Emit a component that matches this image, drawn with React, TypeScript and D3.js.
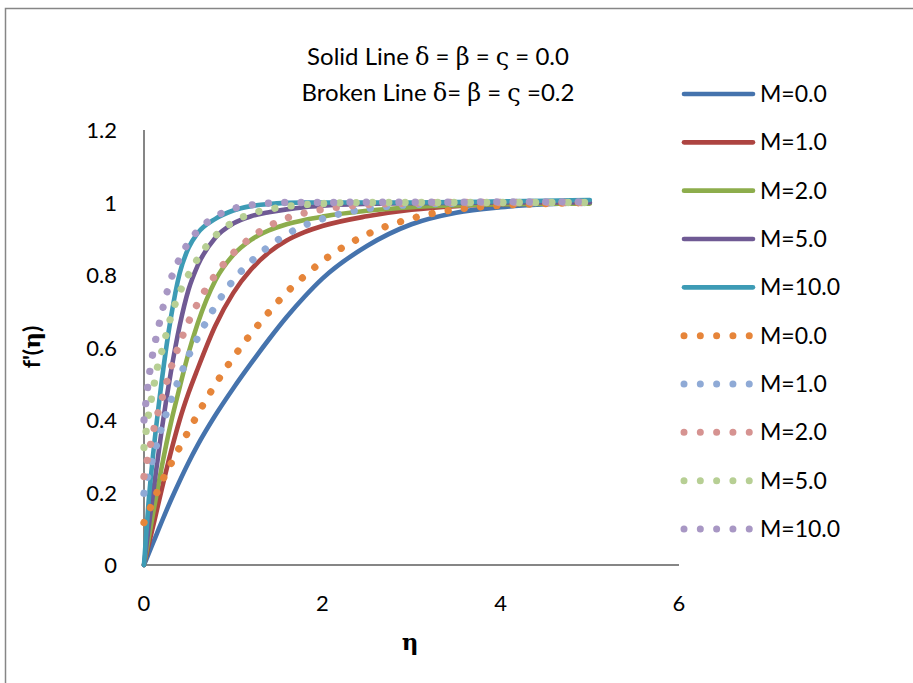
import React from "react";
import * as d3 from "d3";

// eta grid shared by every series
const eta = [0, 0.05, 0.1, 0.15, 0.2, 0.3, 0.4, 0.5, 0.6, 0.8, 1.0, 1.2, 1.4, 1.6, 1.8, 2.0, 2.5, 3.0, 3.5, 4.0, 4.5, 5.0];

// solid lines, delta = beta = varsigma = 0.0
const solidM0 = [0, 0.03, 0.06, 0.09, 0.12, 0.178, 0.232, 0.283, 0.33, 0.413, 0.487, 0.556, 0.622, 0.684, 0.74, 0.79, 0.88, 0.94, 0.972, 0.987, 0.995, 1.0];
const solidM1 = [0, 0.053, 0.105, 0.157, 0.21, 0.31, 0.4, 0.475, 0.54, 0.66, 0.75, 0.815, 0.862, 0.895, 0.918, 0.935, 0.962, 0.98, 0.99, 0.995, 0.998, 1.0];
const solidM2 = [0, 0.07, 0.14, 0.207, 0.272, 0.39, 0.49, 0.585, 0.665, 0.785, 0.855, 0.897, 0.923, 0.94, 0.952, 0.961, 0.977, 0.987, 0.992, 0.995, 0.997, 0.997];
const solidM5 = [0, 0.1, 0.195, 0.285, 0.375, 0.53, 0.66, 0.76, 0.825, 0.903, 0.942, 0.962, 0.973, 0.981, 0.987, 0.991, 0.996, 0.998, 0.999, 1.0, 1.0, 1.0];
const solidM10 = [0, 0.17, 0.3, 0.41, 0.51, 0.68, 0.805, 0.875, 0.915, 0.955, 0.978, 0.99, 0.996, 0.999, 1.0, 1.0, 1.0, 1.0, 1.001, 1.003, 1.005, 1.007];

// broken lines, delta = beta = varsigma = 0.2
const brokenM0 = [0.117, 0.146, 0.174, 0.203, 0.23, 0.278, 0.325, 0.37, 0.415, 0.498, 0.572, 0.638, 0.697, 0.752, 0.797, 0.838, 0.912, 0.956, 0.981, 0.992, 0.997, 1.0];
const brokenM1 = [0.198, 0.25, 0.295, 0.339, 0.38, 0.453, 0.518, 0.577, 0.626, 0.714, 0.785, 0.837, 0.879, 0.912, 0.937, 0.955, 0.983, 0.994, 0.998, 1.0, 1.0, 1.0];
const brokenM2 = [0.244, 0.306, 0.363, 0.414, 0.457, 0.542, 0.611, 0.671, 0.721, 0.8, 0.86, 0.903, 0.935, 0.957, 0.971, 0.981, 0.994, 0.998, 1.0, 1.0, 1.0, 1.0];
const brokenM5 = [0.324, 0.414, 0.48, 0.545, 0.59, 0.683, 0.752, 0.801, 0.844, 0.908, 0.946, 0.969, 0.981, 0.989, 0.994, 0.997, 1.0, 1.0, 1.0, 1.0, 1.0, 1.0];
const brokenM10 = [0.4, 0.508, 0.585, 0.642, 0.697, 0.787, 0.846, 0.89, 0.921, 0.961, 0.983, 0.993, 0.998, 1.0, 1.0, 1.0, 1.001, 1.001, 1.001, 1.002, 1.002, 1.002];

const labels = ["M=0.0", "M=1.0", "M=2.0", "M=5.0", "M=10.0"];
const solidColors = ["#4573ad", "#ad4441", "#8dad4c", "#6f5a94", "#3d9bb5"];
const brokenColors = ["#e6853a", "#8faad6", "#d69391", "#b7cf94", "#a897c4"];

const xTicks = [0, 2, 4, 6];
const yTicks = [0, 0.2, 0.4, 0.6, 0.8, 1, 1.2];

const font = "Lato, 'Open Sans', sans-serif";
const greek = "'DejaVu Serif', 'Liberation Serif', serif";

export default function App() {
  const x = d3.scaleLinear().domain([0, 6]).range([144, 679]);
  const y = d3.scaleLinear().domain([0, 1.2]).range([565, 130]);
  const line = d3
    .line<number>()
    .x((d, i) => x(eta[i]))
    .y((d) => y(d))
    .curve(d3.curveMonotoneX);

  const solids = [solidM0, solidM1, solidM2, solidM5, solidM10];
  const brokens = [brokenM0, brokenM1, brokenM2, brokenM5, brokenM10];

  const legendY = d3.scaleLinear().domain([0, 9]).range([94, 529]);

  return (
    <svg width={913} height={683} style={{ position: "absolute", left: 0, top: 0, background: "#fff" }}>
      <path d="M5.5,690 L5.5,8.5 L920,8.5" fill="none" stroke="#868686" strokeWidth={1.5} />

      {/* title */}
      <text x={438} y={65} textAnchor="middle" fontFamily={font} fontSize={24} fill="#000">
        Solid Line <tspan fontFamily={greek}>δ</tspan> = <tspan fontFamily={greek}>β</tspan> ={" "}
        <tspan fontFamily={greek}>ς</tspan> = 0.0
      </text>
      <text x={438} y={101} textAnchor="middle" fontFamily={font} fontSize={24} fill="#000">
        Broken Line <tspan fontFamily={greek}>δ</tspan>= <tspan fontFamily={greek}>β</tspan> ={" "}
        <tspan fontFamily={greek}>ς</tspan> =0.2
      </text>

      {/* axes */}
      <line x1={x(0)} x2={x(0)} y1={y(1.2)} y2={y(0)} stroke="#868686" strokeWidth={2} />
      <line x1={x(0)} x2={x(6)} y1={y(0)} y2={y(0)} stroke="#868686" strokeWidth={2} />
      {yTicks.map((t) => (
        <text key={t} x={117} y={y(t) + 8} textAnchor="end" fontFamily={font} fontSize={22} fill="#000">
          {t}
        </text>
      ))}
      {xTicks.map((t) => (
        <text key={t} x={x(t)} y={611} textAnchor="middle" fontFamily={font} fontSize={22} fill="#000">
          {t}
        </text>
      ))}
      <text x={410} y={650} textAnchor="middle" fontFamily={greek} fontSize={23} fontWeight="bold" fill="#000">
        η
      </text>
      <text
        transform="translate(40,347) rotate(-90)"
        textAnchor="middle"
        fontFamily={font}
        fontSize={23}
        fontWeight="bold"
        fill="#000"
      >
        f'(<tspan fontFamily={greek}>η</tspan>)
      </text>

      {/* series */}
      {solids.map((s, i) => (
        <path key={"s" + i} d={line(s) || ""} fill="none" stroke={solidColors[i]} strokeWidth={4.6} strokeLinecap="round" />
      ))}
      {brokens.map((s, i) => (
        <path
          key={"b" + i}
          d={line(s) || ""}
          fill="none"
          stroke={brokenColors[i]}
          strokeWidth={7.3}
          strokeDasharray="0.01 16.3"
          strokeLinecap="round"
        />
      ))}

      {/* legend */}
      {labels.map((l, i) => (
        <g key={"ls" + i}>
          <line x1={684} x2={753} y1={legendY(i)} y2={legendY(i)} stroke={solidColors[i]} strokeWidth={4.6} strokeLinecap="round" />
          <text x={760} y={legendY(i) + 8} fontFamily={font} fontSize={23} fill="#000">
            {l}
          </text>
        </g>
      ))}
      {labels.map((l, i) => (
        <g key={"lb" + i}>
          <line
            x1={684}
            x2={750}
            y1={legendY(i + 5)}
            y2={legendY(i + 5)}
            stroke={brokenColors[i]}
            strokeWidth={7}
            strokeDasharray="0.01 16.3"
            strokeLinecap="round"
          />
          <text x={760} y={legendY(i + 5) + 8} fontFamily={font} fontSize={23} fill="#000">
            {l}
          </text>
        </g>
      ))}
    </svg>
  );
}
